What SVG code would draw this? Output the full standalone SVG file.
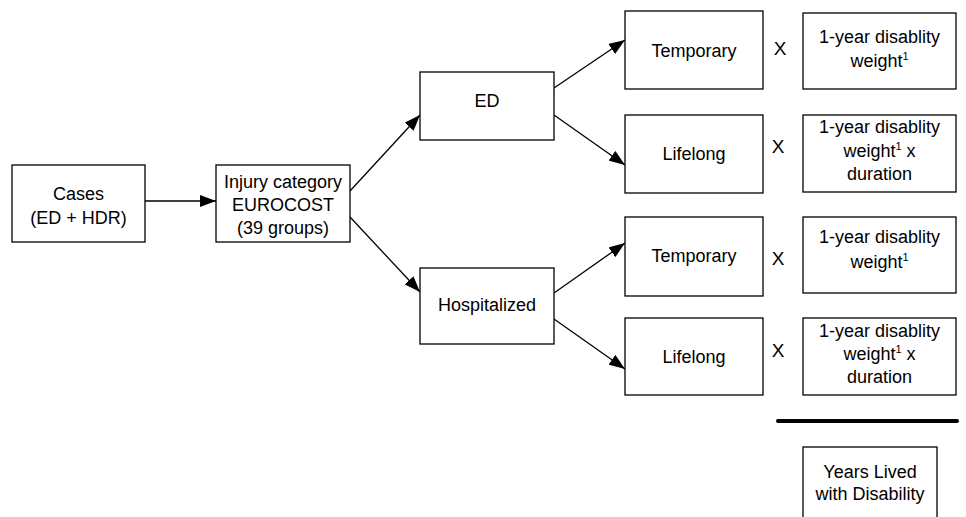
<svg xmlns="http://www.w3.org/2000/svg" width="966" height="517" viewBox="0 0 966 517">
<style>
.box{fill:#fff;stroke:#000;stroke-width:1.3}
.t{font-family:"Liberation Sans",Arial,sans-serif;font-size:18px;fill:#000;text-anchor:middle}
.x{font-family:"Liberation Sans",Arial,sans-serif;font-size:19px;fill:#000;text-anchor:middle}
.sup{font-size:11px}
.c{stroke:#000;stroke-width:1.3;fill:none;marker-end:url(#ah)}
</style>
<defs>
<marker id="ah" viewBox="0 0 16 12" refX="16" refY="6" markerWidth="16" markerHeight="12" markerUnits="userSpaceOnUse" orient="auto">
<path d="M0,0 L16,6 L0,12 Z" fill="#000"/>
</marker>
</defs>
<rect width="966" height="517" fill="#fff"/>
<g id="connectors">
<line class="c" x1="145" y1="201" x2="216" y2="201"/>
<line class="c" x1="350" y1="191" x2="420" y2="115"/>
<line class="c" x1="350" y1="217" x2="420" y2="292"/>
<line class="c" x1="554" y1="88" x2="625" y2="40"/>
<line class="c" x1="554" y1="115" x2="625" y2="165"/>
<line class="c" x1="554" y1="293" x2="625" y2="243"/>
<line class="c" x1="554" y1="319" x2="625" y2="369"/>
</g>
<g id="cases"><rect class="box" x="12" y="165" width="133" height="77"/>
<text class="t" x="78.5" y="199.5">Cases</text><text class="t" x="78.5" y="223.5">(ED + HDR)</text></g>
<g id="injury"><rect class="box" x="216" y="165" width="134" height="77"/>
<text class="t" x="283" y="187.5">Injury category</text><text class="t" x="283" y="210.5">EUROCOST</text><text class="t" x="283" y="233.5">(39 groups)</text></g>
<g id="ed"><rect class="box" x="420" y="72" width="134" height="68"/>
<text class="t" x="487" y="107">ED</text></g>
<g id="hosp"><rect class="box" x="420" y="268" width="134" height="76"/>
<text class="t" x="487" y="311">Hospitalized</text></g>
<g id="temp1"><rect class="box" x="625" y="11" width="138" height="78"/>
<text class="t" x="694" y="57">Temporary</text></g>
<g id="life1"><rect class="box" x="625" y="115" width="138" height="78"/>
<text class="t" x="694" y="160">Lifelong</text></g>
<g id="temp2"><rect class="box" x="625" y="217" width="138" height="79"/>
<text class="t" x="694" y="262">Temporary</text></g>
<g id="life2"><rect class="box" x="625" y="318" width="138" height="77"/>
<text class="t" x="694" y="363">Lifelong</text></g>
<g id="x-signs">
<text class="x" x="780" y="55">X</text>
<text class="x" x="778" y="153">X</text>
<text class="x" x="778" y="265">X</text>
<text class="x" x="778" y="357">X</text>
</g>
<g id="w1"><rect class="box" x="803" y="13" width="153" height="76"/>
<text class="t" x="879.5" y="43">1-year disablity</text>
<text class="t" x="879.5" y="67">weight<tspan class="sup" dy="-7">1</tspan></text></g>
<g id="w2"><rect class="box" x="803" y="115" width="153" height="77"/>
<text class="t" x="879.5" y="133">1-year disablity</text>
<text class="t" x="879.5" y="157">weight<tspan class="sup" dy="-7">1</tspan><tspan dy="7"> x</tspan></text>
<text class="t" x="879.5" y="180">duration</text></g>
<g id="w3"><rect class="box" x="803" y="217" width="153" height="76"/>
<text class="t" x="879.5" y="243">1-year disablity</text>
<text class="t" x="879.5" y="268">weight<tspan class="sup" dy="-7">1</tspan></text></g>
<g id="w4"><rect class="box" x="803" y="318" width="153" height="77"/>
<text class="t" x="879.5" y="337">1-year disablity</text>
<text class="t" x="879.5" y="360">weight<tspan class="sup" dy="-7">1</tspan><tspan dy="7"> x</tspan></text>
<text class="t" x="879.5" y="383">duration</text></g>
<g id="bar"><line x1="778" y1="421" x2="957" y2="421" stroke="#000" stroke-width="4" stroke-linecap="round"/></g>
<g id="yld"><rect class="box" x="803" y="447" width="134" height="80"/>
<text class="t" x="870" y="478">Years Lived</text><text class="t" x="870" y="500">with Disability</text></g>
</svg>
